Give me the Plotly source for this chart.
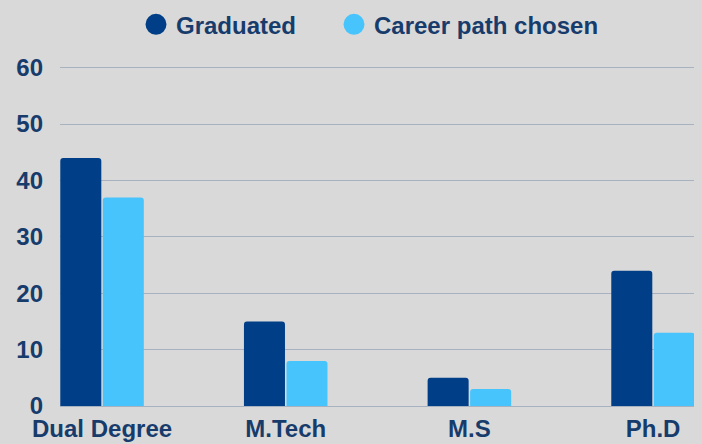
import plotly.graph_objects as go

categories = ["Dual Degree", "M.Tech", "M.S", "Ph.D"]
graduated = [44, 15, 5, 24]
career_path = [37, 8, 3, 13]
y_ticks = [0, 10, 20, 30, 40, 50, 60]

DARK = "#003f88"
LIGHT = "#48c4fd"
TEXT = "#173c6c"
GRID = "#a7b1bf"
BG = "#d9d9d9"
FONT = "Liberation Sans, Arial, sans-serif"

fig = go.Figure()
fig.add_trace(go.Bar(x=categories, y=graduated, name="Graduated",
                     marker=dict(color=DARK, cornerradius=3, line=dict(width=0)),
                     showlegend=False, legendgroup="g"))
fig.add_trace(go.Bar(x=categories, y=career_path, name="Career path chosen",
                     marker=dict(color=LIGHT, cornerradius=3, line=dict(width=0)),
                     showlegend=False, legendgroup="c"))
# legend entries with round symbols
fig.add_trace(go.Scatter(x=[None], y=[None], mode="markers", name="Graduated",
                         legendgroup="g", legend="legend",
                         marker=dict(symbol="circle", size=16, color=DARK,
                                     line=dict(color=DARK, width=5))))
fig.add_trace(go.Scatter(x=[None], y=[None], mode="markers", name="Career path chosen",
                         legendgroup="c", legend="legend2",
                         marker=dict(symbol="circle", size=16, color=LIGHT,
                                     line=dict(color=LIGHT, width=5))))

legend_common = dict(orientation="h", yanchor="top", xanchor="left",
                     xref="container", yref="container",
                     font=dict(family=FONT, size=24, color=TEXT, weight="bold"),
                     bgcolor="rgba(0,0,0,0)", itemclick=False, itemdoubleclick=False)

fig.update_layout(
    width=702, height=444,
    paper_bgcolor=BG, plot_bgcolor=BG,
    margin=dict(l=60, r=8, t=66, b=38),
    barmode="group", bargap=0.537, bargroupgap=0.035,
    font=dict(family=FONT, size=24, color=TEXT, weight="bold"),
    legend=dict(x=136 / 702, y=0.995, **legend_common),
    legend2=dict(x=334 / 702, y=0.995, **legend_common),
    xaxis=dict(type="category", range=[-0.229, 3.223], showgrid=False,
               showline=False, zeroline=False, ticks="", ticklabelstandoff=6,
               automargin=False,
               tickfont=dict(family=FONT, size=24, color=TEXT, weight="bold")),
    yaxis=dict(range=[0, 60.3], tickvals=y_ticks, showgrid=True, gridcolor=GRID,
               gridwidth=1, zeroline=True, zerolinecolor=GRID, zerolinewidth=1,
               showline=False, ticks="", ticklabelstandoff=16, automargin=False,
               tickfont=dict(family=FONT, size=24, color=TEXT, weight="bold")),
)

fig.write_html("out.html", config={"displayModeBar": False},
               post_script="document.body.style.margin='0';")
